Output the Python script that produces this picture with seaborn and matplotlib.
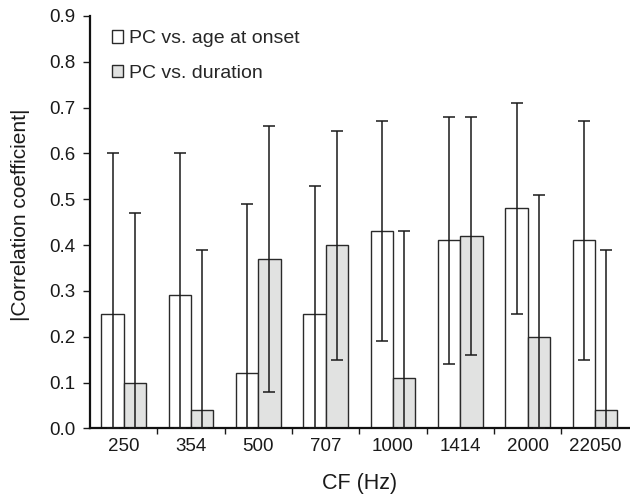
import numpy as np
import pandas as pd
import matplotlib
matplotlib.use("Agg")
import matplotlib.pyplot as plt
import seaborn as sns

# Characteristic frequencies and correlation summaries
cf_labels = ["250", "354", "500", "707", "1000", "1414", "2000", "22050"]
onset_r = [0.25, 0.29, 0.12, 0.25, 0.43, 0.41, 0.48, 0.41]
onset_sd = [0.35, 0.31, 0.37, 0.28, 0.24, 0.27, 0.23, 0.26]
duration_r = [0.10, 0.04, 0.37, 0.40, 0.11, 0.42, 0.20, 0.04]
duration_sd = [0.37, 0.35, 0.29, 0.25, 0.32, 0.26, 0.31, 0.35]
series_names = ["PC vs. age at onset", "PC vs. duration"]
y_ticks = [0.0, 0.1, 0.2, 0.3, 0.4, 0.5, 0.6, 0.7, 0.8, 0.9]

sns.set_theme(style="ticks")
plt.rcParams["font.family"] = ["Liberation Sans", "DejaVu Sans"]
plt.rcParams["font.size"] = 13.5

df = pd.DataFrame({
    "CF": cf_labels * 2,
    "r": onset_r + duration_r,
    "sd": onset_sd + duration_sd,
    "series": [series_names[0]] * len(cf_labels) + [series_names[1]] * len(cf_labels),
})

fig = plt.figure(figsize=(6.3, 4.95), dpi=100)
ax = fig.add_axes([0.1429, 0.1347, 0.855, 0.833])

sns.barplot(
    data=df, x="CF", y="r", hue="series", order=cf_labels,
    hue_order=series_names, palette=["white", "#e1e2e1"],
    width=0.66, gap=0, errorbar=None, edgecolor="#2a2a2a",
    linewidth=1.0, ax=ax,
)

# Error bars (lower whisker clipped at zero) drawn at each bar centre
for cont, name in zip(ax.containers, series_names):
    sub = df[df["series"] == name].set_index("CF").loc[cf_labels]
    xs = [p.get_x() + p.get_width() / 2 for p in cont.patches]
    vals = sub["r"].to_numpy()
    sds = sub["sd"].to_numpy()
    lower = np.minimum(sds, vals)
    ax.errorbar(xs, vals, yerr=[lower, sds], fmt="none", ecolor="#1a1a1a",
                elinewidth=1.1, capsize=4.5, capthick=1.1, zorder=5)

ax.set_xlim(-0.5, len(cf_labels) - 0.5)
ax.set_ylim(0, 0.9)
ax.set_yticks(y_ticks)
ax.set_yticklabels([f"{t:.1f}" for t in y_ticks])

# x ticks sit on the boundaries between groups, labels at group centres
ax.set_xticks(np.arange(len(cf_labels)))
ax.set_xticklabels(cf_labels)
ax.tick_params(axis="x", which="major", length=0, pad=7, labelsize=13.5, colors="#1a1a1a")
ax.set_xticks(np.arange(0.5, len(cf_labels) - 0.5), minor=True)
ax.tick_params(axis="x", which="minor", length=4, width=1.0, direction="out", color="#1a1a1a")
ax.tick_params(axis="y", length=5, width=1.0, direction="out", labelsize=13.5, colors="#1a1a1a", pad=5.5)

sns.despine(ax=ax)
for side in ("left", "bottom"):
    ax.spines[side].set_linewidth(1.6)
    ax.spines[side].set_color("#111111")

ax.set_xlabel("CF (Hz)", fontsize=15.5, labelpad=13, color="#1a1a1a")
ax.set_ylabel("|Correlation coefficient|", fontsize=15, color="#1a1a1a")
ax.yaxis.set_label_coords(-0.111, 0.517)

ax.legend(loc="upper left", bbox_to_anchor=(0.04, 0.965), frameon=False,
          handlelength=0.6, handleheight=0.6, handletextpad=0.3,
          labelspacing=0.9, borderpad=0, borderaxespad=0, fontsize=14)

fig.savefig("out.png", dpi=100)
